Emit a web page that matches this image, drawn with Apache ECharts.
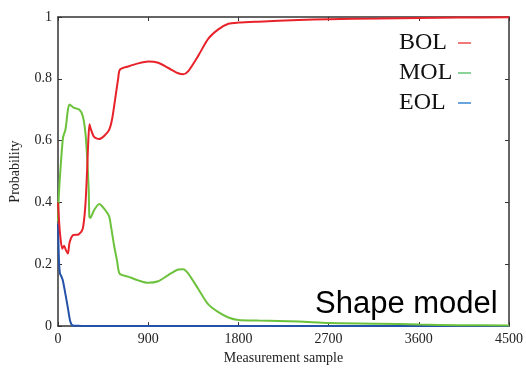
<!DOCTYPE html>
<html><head><meta charset="utf-8">
<script src="https://cdn.jsdelivr.net/npm/echarts@6/dist/echarts.min.js"></script>
<style>html,body{margin:0;padding:0;background:#fff}#c{width:526px;height:370px}</style>
</head><body><div id="c"></div>
<script>
var xTicks = [0, 900, 1800, 2700, 3600, 4500];
var yTicks = [0, 0.2, 0.4, 0.6, 0.8, 1];
var seriesNames = ['BOL', 'MOL', 'EOL'];

var bolX = [0, 20, 43, 60, 80, 99, 115, 148, 207, 247, 273, 290, 303, 314, 325, 360, 411, 460, 510, 540, 575, 600, 618, 700, 800, 900, 1000, 1100, 1200, 1250, 1300, 1400, 1500, 1600, 1700, 1800, 2000, 2400, 2700, 3200, 3600, 4000, 4500];
var bolY = [0.40, 0.30, 0.25, 0.26, 0.245, 0.235, 0.27, 0.294, 0.297, 0.315, 0.39, 0.50, 0.605, 0.653, 0.64, 0.612, 0.605, 0.615, 0.635, 0.67, 0.745, 0.80, 0.83, 0.84, 0.85, 0.856, 0.852, 0.835, 0.818, 0.815, 0.825, 0.875, 0.93, 0.96, 0.978, 0.982, 0.985, 0.99, 0.993, 0.995, 0.997, 0.998, 0.999];

var molX = [0, 8, 23, 50, 75, 99, 115, 155, 214, 247, 273, 290, 306, 313, 322, 360, 411, 460, 510, 530, 560, 590, 615, 700, 800, 900, 1000, 1100, 1200, 1250, 1300, 1400, 1500, 1600, 1700, 1800, 2000, 2400, 2700, 3200, 3600, 4000, 4500];
var molY = [0.34, 0.42, 0.50, 0.61, 0.637, 0.70, 0.717, 0.707, 0.70, 0.68, 0.627, 0.55, 0.444, 0.354, 0.35, 0.375, 0.395, 0.38, 0.355, 0.32, 0.26, 0.21, 0.17, 0.16, 0.148, 0.14, 0.145, 0.165, 0.183, 0.184, 0.17, 0.12, 0.07, 0.045, 0.028, 0.02, 0.018, 0.015, 0.01, 0.008, 0.005, 0.003, 0.002];

var eolX = [0, 10, 20, 35, 50, 76, 99, 122, 148, 200, 300, 500, 1000, 2000, 3000, 4500];
var eolY = [0.33, 0.21, 0.17, 0.16, 0.145, 0.10, 0.058, 0.016, 0.002, 0.001, 0, 0, 0, 0, 0, 0];

function pairs(xs, ys) { return xs.map(function (x, i) { return [x, ys[i]]; }); }

var colors = ['#e8222a', '#6cc23c', '#2452a8'];
var legendColors = ['#f07a7a', '#8ad49a', '#6aa4dc'];
var serif = '"Liberation Serif", "DejaVu Serif", serif';
var axisLine = { show: true, onZero: false, lineStyle: { color: '#333', width: 1.5 } };
var tick = { inside: true, length: 4, lineStyle: { color: '#333' } };

var chart = echarts.init(document.getElementById('c'), null, { renderer: 'canvas' });
var data = [pairs(bolX, bolY), pairs(molX, molY), pairs(eolX, eolY)];
chart.setOption({
  animation: false,
  grid: { left: 55, right: 15, top: 17, bottom: 42 },
  legend: {
    orient: 'vertical', left: 394, top: 26, align: 'right',
    itemGap: 6, itemWidth: 13, itemHeight: 2, icon: 'rect',
    formatter: '{t|{name}}',
    textStyle: { fontFamily: serif, fontSize: 24, color: '#111', lineHeight: 23,
      rich: { t: { fontFamily: serif, fontSize: 24, color: '#111', lineHeight: 23, width: 54, align: 'left' } } },
    data: seriesNames.map(function (n, i) { return { name: n, itemStyle: { color: legendColors[i] } }; })
  },
  xAxis: [{
    type: 'value', min: xTicks[0], max: xTicks[xTicks.length - 1], interval: 900,
    name: 'Measurement sample', nameLocation: 'middle', nameGap: 20,
    nameTextStyle: { fontFamily: serif, fontSize: 14, color: '#222' },
    axisLine: axisLine, axisTick: tick,
    axisLabel: { fontFamily: serif, fontSize: 14, color: '#222', margin: 6, formatter: function (v) { return String(v); } },
    splitLine: { show: false }
  }, {
    type: 'value', position: 'top', min: 0, max: 4500, interval: 900,
    axisLine: axisLine, axisTick: tick,
    axisLabel: { show: false }, splitLine: { show: false }
  }],
  yAxis: [{
    type: 'value', min: 0, max: 1, interval: 0.2,
    name: 'Probability', nameLocation: 'middle', nameGap: 36,
    nameTextStyle: { fontFamily: serif, fontSize: 14, color: '#222' },
    axisLine: axisLine, axisTick: tick,
    axisLabel: { fontFamily: serif, fontSize: 14, color: '#222', margin: 6,
      formatter: function (v) { return String(+v.toFixed(1)); } },
    splitLine: { show: false }
  }, {
    type: 'value', position: 'right', min: 0, max: 1, interval: 0.2,
    axisLine: axisLine, axisTick: tick,
    axisLabel: { show: false }, splitLine: { show: false }
  }],
  graphic: [{
    type: 'text', left: 315, top: 289,
    style: { text: 'Shape model', fontFamily: '"Liberation Sans", Arial, sans-serif', fontSize: 31, fill: '#000' }
  }],
  series: seriesNames.map(function (n, i) {
    return {
      name: n, type: 'line', data: data[i], showSymbol: false, smooth: 0.25,
      lineStyle: { color: colors[i], width: 2 }, itemStyle: { color: colors[i] }, z: 3 - i
    };
  })
});
</script></body></html>
